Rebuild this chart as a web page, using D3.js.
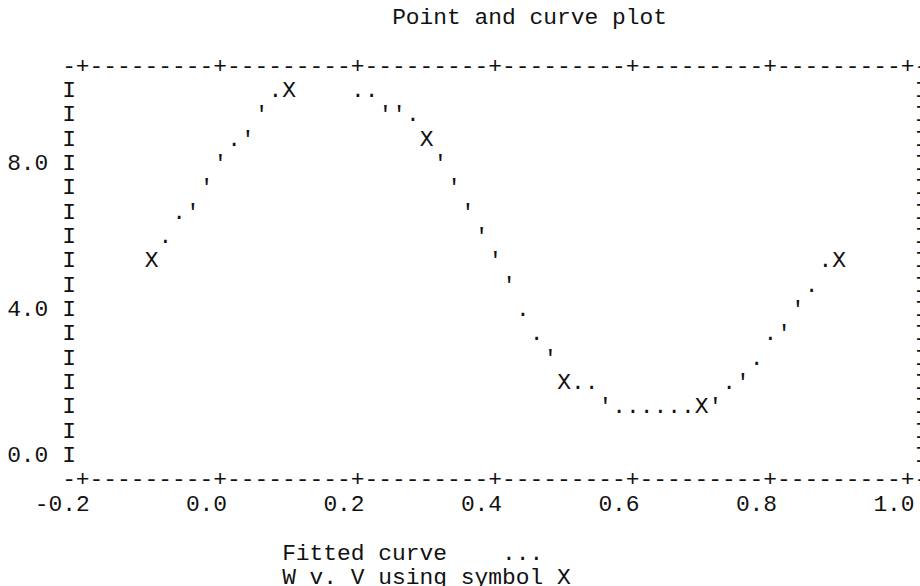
<!DOCTYPE html>
<html>
<head>
<meta charset="utf-8">
<script src="https://cdn.jsdelivr.net/npm/d3@7"></script>
<style>
  html, body { margin: 0; padding: 0; background: #fff; }
  svg { display: block; }
  text { font-family: "Liberation Mono", "Courier New", monospace; fill: #111; }
</style>
</head>
<body>
<script>
// Observed values, printed with symbol X
const V = [-0.1, 0.1, 0.3, 0.5, 0.7, 0.9];
const W = [5.4, 10.0, 8.7, 2.0, 1.3, 5.4];

// Fitted curve, one value per print column
const fitV = [-0.10, -0.08, -0.06, -0.04, -0.02, 0.00, 0.02, 0.04, 0.06, 0.08,
               0.10,  0.12,  0.14,  0.16,  0.18, 0.20, 0.22, 0.24, 0.26, 0.28,
               0.30,  0.32,  0.34,  0.36,  0.38, 0.40, 0.42, 0.44, 0.46, 0.48,
               0.50,  0.52,  0.54,  0.56,  0.58, 0.60, 0.62, 0.64, 0.66, 0.68,
               0.70,  0.72,  0.74,  0.76,  0.78, 0.80, 0.82, 0.84, 0.86, 0.88,
               0.90];
const fitW = [5.45, 5.85, 6.50, 6.85, 7.50, 8.15, 8.50, 8.85, 9.50, 9.80,
              10.00, 10.15, 10.25, 10.25, 10.10, 9.90, 9.75, 9.55, 9.40, 9.15,
              8.75, 8.20, 7.50, 6.85, 6.20, 5.50, 4.85, 3.85, 3.20, 2.80,
              2.30, 1.85, 1.70, 1.45, 1.28, 1.20, 1.15, 1.12, 1.15, 1.25,
              1.35, 1.50, 1.80, 2.15, 2.50, 3.20, 3.50, 4.15, 4.50, 5.20,
              5.55];

const xTicks = [-0.2, 0.0, 0.2, 0.4, 0.6, 0.8, 1.0];
const xTickLabels = ["-0.2", "0.0", "0.2", "0.4", "0.6", "0.8", "1.0"];
const yTicks = [0, 4, 8];
const yTickLabels = ["0.0", "4.0", "8.0"];
const titleText = "Point and curve plot";
const legendLines = ["Fitted curve    ...", "W v. V using symbol X"];

// Character-cell geometry of the printer page
const width = 920, height = 586;
const cw = 13.75;          // column pitch
const rh = 24.35;          // line pitch
const col0 = 69;           // centre of column 0 (left frame)
const row0 = 65;           // centre of line 0 (top frame)
const fontSize = cw / 0.6;
const baseShift = 7.5;     // baseline below the cell centre

const lastCol = 62, lastRow = 17;   // right and bottom frame

const cx = c => col0 + c * cw;
const cy = r => row0 + r * rh + baseShift;

// Value -> print column / fractional print line
const colScale = d3.scaleLinear().domain([-0.2, 1.0]).range([1, 61]);
const rowScale = d3.scaleLinear().domain([0, 10]).range([16, 1]);
const [yMin, yMax] = rowScale.domain();

const svg = d3.select("body").append("svg")
  .attr("width", width).attr("height", height)
  .attr("font-size", fontSize);

// Title
svg.append("text")
  .attr("x", cx(24) - cw / 2).attr("y", cy(-2))
  .attr("xml:space", "preserve")
  .text(titleText);

// Top and bottom frame: dashes with "+" at tick columns
const tickCols = new Set(xTicks.map(t => Math.round(colScale(t))));
const frame = d3.range(0, lastCol + 1).map(c => tickCols.has(c) ? "+" : "-").join("");
[0, lastRow].forEach(r => {
  svg.append("text")
    .attr("x", cx(0) - cw / 2).attr("y", cy(r))
    .text(frame);
});

// Side frames
const sideRows = d3.range(1, lastRow);
svg.append("g").selectAll("text").data(sideRows.flatMap(r => [[0, r], [lastCol, r]]))
  .join("text")
  .attr("x", d => cx(d[0])).attr("y", d => cy(d[1]))
  .attr("text-anchor", "middle")
  .text("I");

// Y tick labels, ending two columns left of the frame
svg.append("g").selectAll("text").data(yTicks)
  .join("text")
  .attr("x", cx(-2) + cw / 2)
  .attr("y", d => cy(Math.round(rowScale(d))))
  .attr("text-anchor", "end")
  .text((d, i) => yTickLabels[i]);

// X tick labels, last character under the "+"
svg.append("g").selectAll("text").data(xTicks)
  .join("text")
  .attr("x", d => cx(Math.round(colScale(d))) + cw / 2)
  .attr("y", cy(lastRow + 1))
  .attr("text-anchor", "end")
  .text((d, i) => xTickLabels[i]);

// Plot cells: the curve at half-line resolution ("." lower half, "'" upper half),
// then the observed points overwrite their cells.
const cells = new Map();
fitV.forEach((v, i) => {
  const w = fitW[i];
  if (w > yMax || w < yMin) return;
  const f = rowScale(w);
  const r = Math.round(f);
  const c = Math.round(colScale(v));
  cells.set(c + "," + r, { c, r, ch: f < r ? "'" : "." });
});
V.forEach((v, i) => {
  const c = Math.round(colScale(v));
  const r = Math.round(rowScale(W[i]));
  cells.set(c + "," + r, { c, r, ch: "X" });
});

svg.append("g").selectAll("text").data(Array.from(cells.values()))
  .join("text")
  .attr("x", d => cx(d.c)).attr("y", d => cy(d.r))
  .attr("text-anchor", "middle")
  .text(d => d.ch);

// Key below the plot
svg.append("g").selectAll("text").data(legendLines)
  .join("text")
  .attr("x", cx(16) - cw / 2)
  .attr("y", (d, i) => cy(lastRow + 3 + i))
  .attr("xml:space", "preserve")
  .style("white-space", "pre")
  .text(d => d);
</script>
</body>
</html>
